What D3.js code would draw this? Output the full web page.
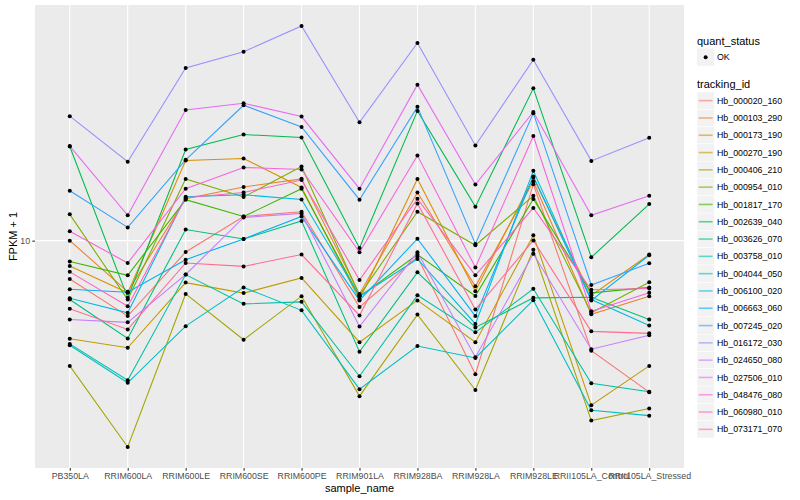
<!DOCTYPE html>
<html>
<head>
<meta charset="utf-8">
<script src="https://cdn.jsdelivr.net/npm/d3@7"></script>
<style>
  body { margin: 0; background: #fff; }
  text { font-family: "Liberation Sans", Arial, sans-serif; }
</style>
</head>
<body>
<svg width="800" height="500"></svg>
<script>
const samples = ["PB350LA", "RRIM600LA", "RRIM600LE", "RRIM600SE", "RRIM600PE", "RRIM901LA",
  "RRIM928BA", "RRIM928LA", "RRIM928LE", "RRII105LA_Control", "RRII105LA_Stressed"];

const trackingIds = ["Hb_000020_160", "Hb_000103_290", "Hb_000173_190", "Hb_000270_190", "Hb_000406_210",
  "Hb_000954_010", "Hb_001817_170", "Hb_002639_040", "Hb_003626_070", "Hb_003758_010",
  "Hb_004044_050", "Hb_006100_020", "Hb_006663_060", "Hb_007245_020", "Hb_016172_030",
  "Hb_024650_080", "Hb_027506_010", "Hb_048476_080", "Hb_060980_010", "Hb_073171_070"];

const hueColors = ["#F8766D", "#EA8331", "#D89000", "#C09B00", "#A3A500", "#7CAE00", "#39B600", "#00BB4E",
  "#00BF7D", "#00C1A3", "#00BFC4", "#00BAE0", "#00B0F6", "#35A2FF", "#9590FF", "#C77CFF",
  "#E76BF3", "#FA62DB", "#FF62BC", "#FF6C91"];

// FPKM + 1, one value per sample (same order as samples)
const hb000020_160 = [8.38, 7.06, 9.49, 11.18, 11.43, 7.36, 9.28, 5.40, 12.98, 6.02, 4.97];
const hb000103_290 = [10.00, 7.90, 12.13, 12.81, 13.30, 7.82, 12.49, 8.10, 13.14, 7.12, 7.74];
const hb000173_190 = [8.90, 7.86, 14.47, 14.61, 12.78, 7.62, 13.29, 7.92, 13.37, 7.77, 9.38];
const hb000270_190 = [6.36, 6.10, 8.24, 7.85, 8.42, 6.26, 7.59, 6.26, 10.25, 4.68, 5.61];
const hb000406_210 = [5.61, 3.86, 7.82, 6.33, 7.74, 4.88, 7.11, 5.02, 9.59, 4.36, 4.61];
const hb000954_010 = [11.29, 7.62, 13.29, 12.23, 14.08, 7.77, 11.43, 9.79, 12.30, 7.17, 8.25];
const hb001817_170 = [9.08, 8.52, 12.08, 11.18, 12.71, 7.72, 9.38, 7.75, 12.12, 7.86, 8.06];
const hb002639_040 = [15.44, 7.68, 15.23, 16.32, 16.09, 9.67, 18.20, 11.70, 20.20, 9.26, 11.84];
const hb003626_070 = [7.62, 6.37, 10.53, 10.08, 10.95, 5.99, 8.64, 6.70, 7.68, 7.70, 6.95];
const hb003758_010 = [6.21, 5.25, 8.55, 7.47, 7.54, 5.35, 7.77, 6.55, 8.01, 5.18, 4.98];
const hb004044_050 = [6.17, 5.19, 6.74, 8.06, 7.25, 5.04, 6.15, 5.82, 7.60, 4.57, 4.46];
const hb006100_020 = [7.67, 7.17, 12.25, 12.36, 12.09, 7.74, 9.19, 6.81, 13.80, 7.62, 6.76];
const hb006663_060 = [7.99, 7.88, 9.16, 10.08, 11.18, 7.59, 10.09, 7.06, 13.45, 7.59, 9.35];
const hb007245_020 = [12.59, 10.63, 14.52, 18.68, 16.90, 12.08, 18.54, 9.85, 18.01, 8.15, 9.01];
const hb016172_030 = [17.76, 14.39, 22.18, 23.91, 26.92, 17.27, 24.89, 15.51, 23.05, 14.45, 16.07];
const hb024650_080 = [6.95, 6.86, 8.55, 11.13, 11.34, 6.73, 9.48, 5.84, 9.41, 6.06, 6.46];
const hb027506_010 = [15.47, 11.24, 18.28, 18.85, 17.73, 12.71, 20.54, 12.96, 18.11, 11.24, 12.30];
const hb048476_080 = [10.44, 9.02, 12.71, 14.02, 13.89, 9.48, 14.81, 8.84, 16.20, 7.22, 7.86];
const hb060980_010 = [8.66, 7.39, 12.19, 12.49, 13.23, 8.34, 12.13, 8.52, 11.63, 7.97, 8.02];
const hb073171_070 = [7.30, 6.64, 9.02, 8.88, 9.38, 7.08, 11.87, 7.28, 10.01, 6.58, 6.52];

const seriesValues = [hb000020_160, hb000103_290, hb000173_190, hb000270_190, hb000406_210,
  hb000954_010, hb001817_170, hb002639_040, hb003626_070, hb003758_010,
  hb004044_050, hb006100_020, hb006663_060, hb007245_020, hb016172_030,
  hb024650_080, hb027506_010, hb048476_080, hb060980_010, hb073171_070];

const yTicks = [10];

var svg = d3.select("svg"),
  panelL = 35, panelR = 684, panelT = 5, panelB = 468;

var series = seriesValues.map((vals, i) => ({ id: trackingIds[i], color: hueColors[i], values: vals }));

var x = d3.scalePoint().domain(samples).range([panelL, panelR]).padding(0.6);

var all = seriesValues.flat();
var lmin = Math.log10(d3.min(all)), lmax = Math.log10(d3.max(all));
var pad = (lmax - lmin) * 0.05;
var y = d3.scaleLog().domain([10 ** (lmin - pad), 10 ** (lmax + pad)]).range([panelB, panelT]);

// panel
svg.append("rect")
  .attr("x", panelL).attr("y", panelT)
  .attr("width", panelR - panelL).attr("height", panelB - panelT)
  .attr("fill", "#EBEBEB");

var grid = svg.append("g").attr("stroke", "#fff").attr("stroke-width", 1.07);
grid.selectAll(".vx").data(samples).enter().append("line")
  .attr("x1", d => x(d)).attr("x2", d => x(d))
  .attr("y1", panelT).attr("y2", panelB);
grid.selectAll(".hy").data(yTicks).enter().append("line")
  .attr("x1", panelL).attr("x2", panelR)
  .attr("y1", d => y(d)).attr("y2", d => y(d));

// lines
var line = d3.line()
  .x((d, i) => x(samples[i]))
  .y(d => y(d));

svg.append("g").selectAll("path").data(series).enter().append("path")
  .attr("d", d => line(d.values))
  .attr("fill", "none")
  .attr("stroke", d => d.color)
  .attr("stroke-width", 1.07);

// points
var pts = [];
series.forEach(s => s.values.forEach((v, i) => pts.push({ s: samples[i], v: v })));
svg.append("g").selectAll("circle").data(pts).enter().append("circle")
  .attr("cx", d => x(d.s))
  .attr("cy", d => y(d.v))
  .attr("r", 2)
  .attr("fill", "#000");

// axes
var xAxis = svg.append("g")
  .attr("transform", "translate(0," + panelB + ")")
  .call(d3.axisBottom(x).tickSize(2.74).tickSizeOuter(0).tickPadding(2.2));
var yAxis = svg.append("g")
  .attr("transform", "translate(" + panelL + ",0)")
  .call(d3.axisLeft(y).tickValues(yTicks).tickFormat(d3.format("d")).tickSize(2.74).tickSizeOuter(0).tickPadding(2.2));

[xAxis, yAxis].forEach(a => {
  a.select(".domain").remove();
  a.selectAll(".tick line").attr("stroke", "#333333").attr("stroke-width", 1.07);
  a.selectAll(".tick text")
    .attr("fill", "#4D4D4D")
    .style("font-size", "8.8px")
    .style("font-family", "'Liberation Sans', Arial, sans-serif");
});

svg.append("text")
  .attr("x", (panelL + panelR) / 2).attr("y", 492)
  .attr("text-anchor", "middle")
  .style("font-size", "11px")
  .text("sample_name");

svg.append("text")
  .attr("transform", "translate(17," + (panelT + panelB) / 2 + ") rotate(-90)")
  .attr("text-anchor", "middle")
  .style("font-size", "11px")
  .text("FPKM + 1");

// legend
var lg = svg.append("g").attr("transform", "translate(697,0)");

lg.append("text").attr("x", 0).attr("y", 44.5).style("font-size", "11px").text("quant_status");
lg.append("rect").attr("x", 0).attr("y", 48.5).attr("width", 17.3).attr("height", 17.3).attr("fill", "#F2F2F2");
lg.append("circle").attr("cx", 8.65).attr("cy", 57.2).attr("r", 2).attr("fill", "#000");
lg.append("text").attr("x", 20).attr("y", 60.3).style("font-size", "8.8px").text("OK");

lg.append("text").attr("x", 0).attr("y", 88).style("font-size", "11px").text("tracking_id");

var keyH = 17.3, key0 = 92;
var items = lg.selectAll(".item").data(series).enter().append("g")
  .attr("transform", (d, i) => "translate(0," + (key0 + i * keyH) + ")");
items.append("rect")
  .attr("width", 17.3).attr("height", keyH)
  .attr("fill", "#F2F2F2").attr("stroke", "#fff").attr("stroke-width", 0.5);
items.append("line")
  .attr("x1", 1.7).attr("x2", 15.6)
  .attr("y1", keyH / 2).attr("y2", keyH / 2)
  .attr("stroke", d => d.color)
  .attr("stroke-opacity", 0.6)
  .attr("stroke-width", 1.6);
items.append("text")
  .attr("x", 20).attr("y", keyH / 2 + 3.1)
  .style("font-size", "8.8px")
  .text(d => d.id);
</script>
</body>
</html>
